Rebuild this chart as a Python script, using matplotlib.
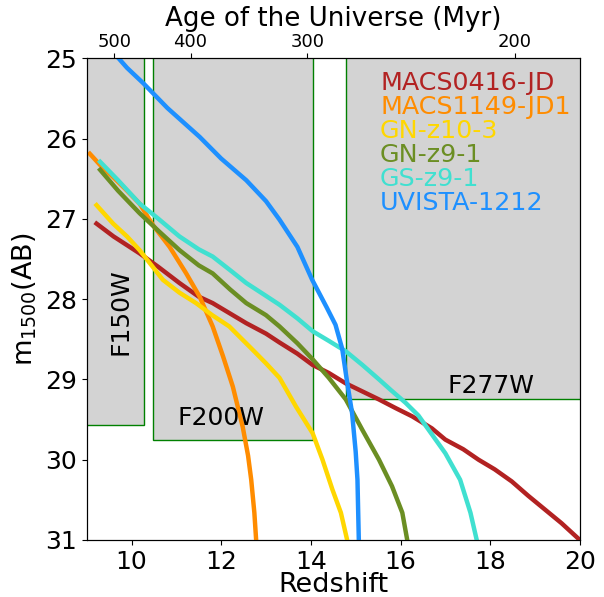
import numpy as np
import matplotlib
matplotlib.use("Agg")
import matplotlib.pyplot as plt
from matplotlib.patches import Rectangle

# ---------------- data ----------------
names = ["MACS0416-JD", "MACS1149-JD1", "GN-z10-3", "GN-z9-1", "GS-z9-1", "UVISTA-1212"]
colors = ["firebrick", "darkorange", "gold", "olivedrab", "turquoise", "dodgerblue"]

z_macs0416 = [9.22, 9.6, 10.18, 10.6, 11.07, 11.5, 11.81, 12.2, 12.56, 13.0, 13.3, 13.7, 14.04, 14.4,
              14.78, 15.15, 15.52, 15.9, 16.26, 16.7, 17.0, 17.4, 17.74, 18.1, 18.48, 18.85, 19.22, 19.59, 20.0]
m_macs0416 = [27.06, 27.22, 27.43, 27.6, 27.8, 27.97, 28.05, 28.18, 28.3, 28.43, 28.54, 28.68, 28.82, 28.92,
              29.05, 29.15, 29.25, 29.36, 29.46, 29.61, 29.75, 29.87, 30.0, 30.12, 30.27, 30.45, 30.62, 30.79, 31.0]

z_macs1149 = [9.07, 9.3, 9.59, 9.9, 10.18, 10.48, 10.85, 11.22, 11.52, 11.81, 12.04, 12.26, 12.48, 12.6,
              12.67, 12.74, 12.78]
m_macs1149 = [26.19, 26.33, 26.48, 26.65, 26.81, 27.08, 27.35, 27.68, 27.97, 28.34, 28.71, 29.09, 29.59, 29.95,
              30.25, 30.66, 31.0]

z_gnz103 = [9.22, 9.59, 9.9, 10.18, 10.7, 11.07, 11.44, 11.8, 12.18, 12.7, 13.0, 13.3, 13.67, 14.04,
            14.26, 14.48, 14.67, 14.81]
m_gnz103 = [26.83, 27.06, 27.22, 27.39, 27.76, 27.92, 28.05, 28.2, 28.34, 28.63, 28.8, 28.98, 29.34, 29.67,
            30.0, 30.37, 30.66, 31.0]

z_gnz91 = [9.3, 9.7, 10.18, 10.6, 11.07, 11.5, 11.81, 12.2, 12.56, 13.0, 13.3, 13.7, 14.04, 14.4,
           14.78, 15.15, 15.52, 15.81, 16.04, 16.15]
m_gnz91 = [26.39, 26.65, 26.93, 27.15, 27.39, 27.58, 27.68, 27.88, 28.05, 28.2, 28.34, 28.55, 28.75, 28.98,
           29.25, 29.63, 30.0, 30.33, 30.66, 31.0]

z_gsz91 = [9.3, 9.7, 10.18, 10.6, 11.07, 11.5, 11.81, 12.2, 12.56, 13.0, 13.3, 13.7, 14.04, 14.4,
           14.78, 15.15, 15.52, 15.8, 16.11, 16.4, 16.63, 17.0, 17.33, 17.56, 17.7]
m_gsz91 = [26.29, 26.52, 26.81, 27.0, 27.22, 27.38, 27.47, 27.64, 27.8, 27.96, 28.07, 28.24, 28.4, 28.52,
           28.65, 28.82, 29.0, 29.14, 29.29, 29.45, 29.63, 29.92, 30.25, 30.66, 31.0]

z_uvista = [9.6, 9.9, 10.26, 10.8, 11.52, 12.0, 12.56, 13.0, 13.3, 13.7, 14.03, 14.35, 14.55, 14.7, 14.8,
            14.92, 15.0, 15.04, 15.07]
m_uvista = [24.93, 25.12, 25.31, 25.62, 25.98, 26.25, 26.52, 26.78, 27.01, 27.35, 27.76, 28.1, 28.32, 28.62, 29.0,
            29.42, 29.9, 30.25, 31.0]

zs = [z_macs0416, z_macs1149, z_gnz103, z_gnz91, z_gsz91, z_uvista]
ms = [m_macs0416, m_macs1149, m_gnz103, m_gnz91, m_gsz91, m_uvista]

filters = ["F150W", "F200W", "F277W"]
filter_zmin = [8.8, 10.48, 14.78]
filter_zmax = [10.27, 14.05, 20.2]
filter_mlim = [29.57, 29.75, 29.25]

ages_myr = [500, 400, 300, 200]

# ---------------- helpers ----------------
def z_of_age(t_myr):
    # matter-dominated approximation of the age-redshift relation
    t0 = 17290.0
    return (np.asarray(t_myr, dtype=float) / t0) ** (-2.0 / 3.0) - 1.0

# ---------------- figure ----------------
fig = plt.figure(figsize=(6.04, 5.97), dpi=100)
ax = fig.add_axes([0.1435, 0.0955, 0.8165, 0.807])

for zmin, zmax, mlim in zip(filter_zmin, filter_zmax, filter_mlim):
    ax.add_patch(Rectangle((zmin, 24.5), zmax - zmin, mlim - 24.5,
                           facecolor="lightgray", edgecolor="green", lw=1.0, zorder=1))

for z, m, c in zip(zs, ms, colors):
    ax.plot(z, m, color=c, lw=3.2, zorder=3, solid_joinstyle="round")

ax.text(9.755, 28.16, filters[0], rotation=90, fontsize=18, ha="center", va="center", zorder=4)
ax.text(12.0, 29.48, filters[1], fontsize=18, ha="center", va="center", zorder=4)
ax.text(18.02, 29.08, filters[2], fontsize=18, ha="center", va="center", zorder=4)

ax.set_xlim(9, 20)
ax.set_ylim(31, 25)
ax.set_xticks([10, 12, 14, 16, 18, 20])
ax.set_yticks([25, 26, 27, 28, 29, 30, 31])
ax.tick_params(labelsize=18)
ax.set_xlabel("Redshift", fontsize=19.5, labelpad=-1.5)
ax.set_ylabel(r"m$_{1500}$(AB)", fontsize=19.5, labelpad=4)

y0 = 0.9336
for i, (n, c) in enumerate(zip(names, colors)):
    ax.text(0.595, y0 - 0.0498 * i, n, color=c, fontsize=18.3, transform=ax.transAxes,
            ha="left", va="baseline", zorder=5)

ax2 = ax.twiny()
ax2.set_xlim(ax.get_xlim())
ax2.set_xticks(z_of_age(ages_myr))
ax2.set_xticklabels([str(a) for a in ages_myr])
ax2.tick_params(labelsize=13, pad=2)
ax2.set_xlabel("Age of the Universe (Myr)", fontsize=18.8, labelpad=4.5)

fig.savefig("out.png", dpi=100)
